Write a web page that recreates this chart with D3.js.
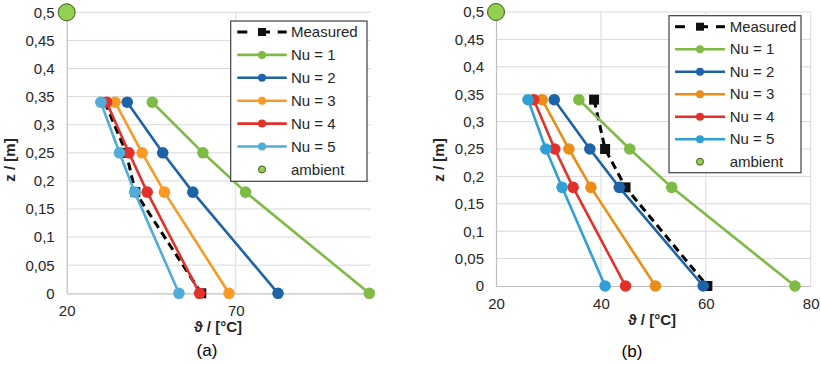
<!DOCTYPE html>
<html>
<head>
<meta charset="utf-8">
<script src="https://cdn.jsdelivr.net/npm/d3@7"></script>
<style>
  html, body { margin: 0; padding: 0; background: #fff; }
  svg { display: block; }
  text { font-family: "Liberation Sans", Arial, sans-serif; }
</style>
</head>
<body>
<svg id="chart" width="821" height="365"></svg>
<script>
// Heights of the sensors in the tank [m]
const depth = [0.34, 0.25, 0.18, 0];

// Panel (a): temperatures [°C]
const measuredA = [31.3, 37.6, 40.3, 59.8];
const nu1A = [45.3, 60.3, 72.9, 109.5];
const nu2A = [37.9, 48.4, 57.3, 82.5];
const nu3A = [34.3, 42.3, 48.9, 68.0];
const nu4A = [31.8, 38.4, 43.8, 59.3];
const nu5A = [30.1, 35.6, 40.1, 53.2];

// Panel (b): temperatures [°C]
const measuredB = [38.7, 40.8, 44.7, 60.3];
const nu1B = [35.8, 45.5, 53.5, 77.0];
const nu2B = [31.1, 37.9, 43.5, 59.5];
const nu3B = [28.8, 33.9, 38.1, 50.4];
const nu4B = [27.2, 31.2, 34.7, 44.7];
const nu5B = [26.1, 29.5, 32.6, 40.8];

// Ambient point (temperature, height)
const ambientA = [20, 0.5];
const ambientB = [20, 0.5];

const legendNames = ["Measured", "Nu = 1", "Nu = 2", "Nu = 3", "Nu = 4", "Nu = 5", "ambient"];
const yTicks = [0, 0.05, 0.1, 0.15, 0.2, 0.25, 0.3, 0.35, 0.4, 0.45, 0.5];
const xTicksA = [20, 70];
const xTicksB = [20, 40, 60, 80];
const captions = ["(a)", "(b)"];

const svg = d3.select("#chart");
const fmtY = d => String(+d.toFixed(2)).replace(".", ",");
const FS = 15;

function drawPanel(opt) {
  const x = d3.scaleLinear().domain(opt.xDomain).range([opt.left, opt.right]);
  const y = d3.scaleLinear().domain([0, 0.5]).range([opt.bottom, opt.top]);
  const g = svg.append("g");

  // horizontal gridlines
  g.append("g").selectAll("line").data(yTicks.slice(1)).join("line")
    .attr("x1", opt.left).attr("x2", opt.right)
    .attr("y1", d => y(d)).attr("y2", d => y(d))
    .attr("stroke", "#d9d9d9").attr("stroke-width", 1);
  // vertical gridlines
  g.append("g").selectAll("line").data(opt.xTicks.slice(1)).join("line")
    .attr("x1", d => x(d)).attr("x2", d => x(d))
    .attr("y1", opt.top).attr("y2", opt.bottom)
    .attr("stroke", "#d9d9d9").attr("stroke-width", 1);

  // axes
  const yAxis = g.append("g").attr("transform", `translate(${opt.left},0)`)
    .call(d3.axisLeft(y).tickValues(yTicks).tickFormat(fmtY).tickSize(0).tickPadding(12));
  const xAxis = g.append("g").attr("transform", `translate(0,${opt.bottom})`)
    .call(d3.axisBottom(x).tickValues(opt.xTicks).tickFormat(d3.format("d")).tickSize(0).tickPadding(opt.xPad));
  [yAxis, xAxis].forEach(a => {
    a.select(".domain").attr("stroke", "#bfbfbf").attr("stroke-width", 1.2);
    a.selectAll("text").attr("font-size", FS).attr("fill", "#262626")
      .attr("font-family", "'Liberation Sans', Arial, sans-serif");
  });

  // axis titles
  g.append("text").attr("x", opt.xTitleX).attr("y", opt.xTitleY)
    .attr("text-anchor", "middle").attr("font-size", FS).attr("font-weight", "bold")
    .attr("fill", "#262626").text("ϑ / [°C]");
  g.append("text").attr("transform", `translate(${opt.yTitleX},${opt.yTitleY}) rotate(-90)`)
    .attr("text-anchor", "middle").attr("font-size", FS).attr("font-weight", "bold")
    .attr("fill", "#262626").text("z / [m]");

  // caption
  g.append("text").attr("x", opt.capX).attr("y", opt.capY).attr("text-anchor", "middle")
    .attr("font-family", "'Liberation Serif', 'Times New Roman', serif").attr("font-size", 17)
    .attr("fill", "#000").text(opt.caption);

  const line = d3.line().x(d => x(d[0])).y(d => y(d[1]));

  // measured profile
  const mPts = opt.measured.map((v, i) => [v, depth[i]]);
  g.append("path").datum(mPts).attr("d", line).attr("fill", "none")
    .attr("stroke", "#000").attr("stroke-width", 3).attr("stroke-dasharray", "8,5");
  g.append("g").selectAll("rect").data(mPts).join("rect")
    .attr("x", d => x(d[0]) - 5).attr("y", d => y(d[1]) - 5)
    .attr("width", 10).attr("height", 10).attr("fill", "#111");

  // simulated profiles
  opt.series.forEach((vals, k) => {
    const pts = vals.map((v, i) => [v, depth[i]]);
    const c = opt.colors[k];
    g.append("path").datum(pts).attr("d", line).attr("fill", "none")
      .attr("stroke", c).attr("stroke-width", 2.6);
    g.append("g").selectAll("circle").data(pts).join("circle")
      .attr("cx", d => x(d[0])).attr("cy", d => y(d[1])).attr("r", 5.8).attr("fill", c);
  });

  // ambient point
  g.append("circle").attr("cx", x(opt.ambient[0])).attr("cy", y(opt.ambient[1])).attr("r", 8.5)
    .attr("fill", "#92d050").attr("stroke", "#3d5a1e").attr("stroke-width", 1);

  // legend
  const L = opt.legend;
  const lg = g.append("g");
  lg.append("rect").attr("x", L.x).attr("y", L.y).attr("width", L.w).attr("height", L.h)
    .attr("fill", "#fff").attr("stroke", "#404040").attr("stroke-width", 1.2);
  legendNames.forEach((name, i) => {
    const cy = L.y + L.first + i * L.step;
    const x1 = L.x + L.s1, x2 = L.x + L.s2, xm = (x1 + x2) / 2;
    if (i === 0) {
      lg.append("line").attr("x1", x1).attr("x2", x1 + 10).attr("y1", cy).attr("y2", cy)
        .attr("stroke", "#000").attr("stroke-width", 3);
      lg.append("line").attr("x1", x2 - 9).attr("x2", x2).attr("y1", cy).attr("y2", cy)
        .attr("stroke", "#000").attr("stroke-width", 3);
      lg.append("line").attr("x1", xm - 4).attr("x2", xm + 8).attr("y1", cy).attr("y2", cy)
        .attr("stroke", "#000").attr("stroke-width", 3);
      lg.append("rect").attr("x", xm - 4).attr("y", cy - 4).attr("width", 8).attr("height", 8).attr("fill", "#111");
    } else if (i <= 5) {
      const c = opt.colors[i - 1];
      lg.append("line").attr("x1", x1).attr("x2", x2).attr("y1", cy).attr("y2", cy)
        .attr("stroke", c).attr("stroke-width", 2.6);
      lg.append("circle").attr("cx", xm).attr("cy", cy).attr("r", 4).attr("fill", c);
    } else {
      lg.append("circle").attr("cx", xm).attr("cy", cy).attr("r", 3.5)
        .attr("fill", "#92d050").attr("stroke", "#3d5a1e").attr("stroke-width", 1);
    }
    lg.append("text").attr("x", L.x + L.tx).attr("y", cy).attr("dy", "0.35em")
      .attr("font-size", FS).attr("fill", "#262626").text(name);
  });
}

drawPanel({
  xDomain: [20, 110], left: 66.7, right: 371, top: 12.3, bottom: 293.3,
  xTicks: xTicksA, xPad: 12,
  measured: measuredA, series: [nu1A, nu2A, nu3A, nu4A, nu5A], ambient: ambientA,
  colors: ["#7dbb45", "#1e62a8", "#f99a26", "#e2312a", "#52acd9"],
  xTitleX: 218, xTitleY: 332, yTitleX: 15, yTitleY: 160,
  capX: 207, capY: 356, caption: captions[0],
  legend: { x: 230.7, y: 21, w: 136.3, h: 160.3, first: 11, step: 22.9, s1: 6.6, s2: 56, tx: 60.3 }
});

drawPanel({
  xDomain: [20, 80], left: 496, right: 810.7, top: 12, bottom: 286,
  xTicks: xTicksB, xPad: 12,
  measured: measuredB, series: [nu1B, nu2B, nu3B, nu4B, nu5B], ambient: ambientB,
  colors: ["#7dbb45", "#1e62a8", "#ea8e17", "#e2312a", "#2fa0d6"],
  xTitleX: 652, xTitleY: 325, yTitleX: 444, yTitleY: 160,
  capX: 632, capY: 357, caption: captions[1],
  legend: { x: 669, y: 15.7, w: 132, h: 157, first: 11, step: 22.5, s1: 6, s2: 56, tx: 60.7 }
});
</script>
</body>
</html>
